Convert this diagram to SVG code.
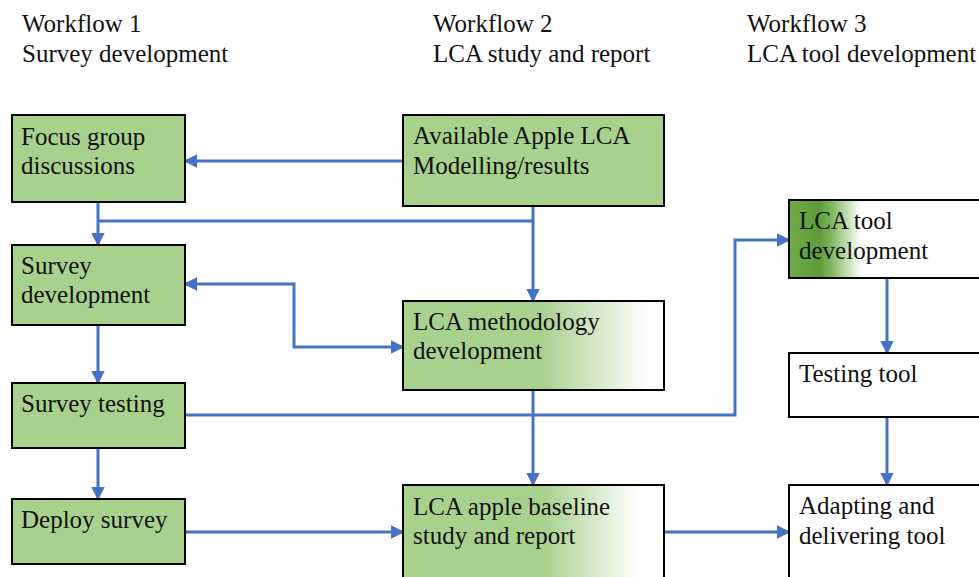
<svg xmlns="http://www.w3.org/2000/svg" width="979" height="577" viewBox="0 0 979 577">
<style>
text{font-family:"Liberation Serif","Times New Roman",serif;font-size:25px;fill:#111}
.box{stroke:#000;stroke-width:2}
.g{fill:#A9D18E}
.w{fill:#fff}
.c{fill:none;stroke:#4472C4;stroke-width:3}
</style>
<defs>
<marker id="ah" viewBox="0 0 10 10" refX="9" refY="5" markerWidth="4.5" markerHeight="4.5" orient="auto-start-reverse" markerUnits="strokeWidth">
<path d="M0,0 L10,5 L0,10 z" fill="#4472C4"/>
</marker>
<linearGradient id="gm" gradientUnits="userSpaceOnUse" x1="403" y1="0" x2="664" y2="0">
<stop offset="0.53" stop-color="#A9D18E"/>
<stop offset="0.94" stop-color="#fff"/>
</linearGradient>
<linearGradient id="gb" gradientUnits="userSpaceOnUse" x1="403" y1="0" x2="664" y2="0">
<stop offset="0.54" stop-color="#A9D18E"/>
<stop offset="0.90" stop-color="#fff"/>
</linearGradient>
<linearGradient id="gt" gradientUnits="userSpaceOnUse" x1="789" y1="0" x2="865" y2="0">
<stop offset="0" stop-color="#70AD47"/>
<stop offset="0.4" stop-color="#5E9C3A"/>
<stop offset="0.55" stop-color="#7DB55A"/>
<stop offset="0.95" stop-color="#fff"/>
</linearGradient>
</defs>
<rect width="979" height="577" fill="#fff"/>
<g id="headers">
<text x="22" y="32">Workflow 1</text>
<text x="22" y="62">Survey development</text>
<text x="433" y="32">Workflow 2</text>
<text x="433" y="62">LCA study and report</text>
<text x="747" y="32">Workflow 3</text>
<text x="747" y="62">LCA tool development</text>
</g>
<g id="connectors">
<path class="c" d="M403,161 H185" marker-end="url(#ah)"/>
<path class="c" d="M98,202 V245" marker-end="url(#ah)"/>
<path class="c" d="M98,221 H533"/>
<path class="c" d="M533,206 V301" marker-end="url(#ah)"/>
<path class="c" d="M185,284 H294 V347 H403" marker-start="url(#ah)" marker-end="url(#ah)"/>
<path class="c" d="M98,325 V383" marker-end="url(#ah)"/>
<path class="c" d="M185,415 H735 V240 H789" marker-end="url(#ah)"/>
<path class="c" d="M533,390 V485" marker-end="url(#ah)"/>
<path class="c" d="M98,448 V499" marker-end="url(#ah)"/>
<path class="c" d="M185,532 H403" marker-end="url(#ah)"/>
<path class="c" d="M664,532 H789" marker-end="url(#ah)"/>
<path class="c" d="M887,278 V353" marker-end="url(#ah)"/>
<path class="c" d="M887,417 V485" marker-end="url(#ah)"/>
</g>
<g id="focus-group">
<rect class="box g" x="12" y="115" width="173" height="87"/>
<text x="21" y="145">Focus group</text>
<text x="21" y="174">discussions</text>
</g>
<g id="survey-development">
<rect class="box g" x="12" y="245" width="173" height="80"/>
<text x="21" y="274">Survey</text>
<text x="21" y="303">development</text>
</g>
<g id="survey-testing">
<rect class="box g" x="12" y="383" width="173" height="65"/>
<text x="21" y="412">Survey testing</text>
</g>
<g id="deploy-survey">
<rect class="box g" x="12" y="499" width="173" height="65"/>
<text x="21" y="528">Deploy survey</text>
</g>
<g id="available-apple-lca">
<rect class="box g" x="403" y="115" width="261" height="91"/>
<text x="413" y="144">Available Apple LCA</text>
<text x="413" y="174">Modelling/results</text>
</g>
<g id="lca-methodology">
<rect class="box" fill="url(#gm)" x="403" y="301" width="261" height="89"/>
<text x="413" y="330">LCA methodology</text>
<text x="413" y="359">development</text>
</g>
<g id="lca-baseline">
<rect class="box" fill="url(#gb)" x="403" y="485" width="261" height="100"/>
<text x="413" y="515">LCA apple baseline</text>
<text x="413" y="544">study and report</text>
</g>
<g id="lca-tool-development">
<rect class="box" fill="url(#gt)" x="789" y="200" width="200" height="78"/>
<text x="799" y="229">LCA tool</text>
<text x="799" y="259">development</text>
</g>
<g id="testing-tool">
<rect class="box w" x="789" y="353" width="200" height="64"/>
<text x="799" y="382">Testing tool</text>
</g>
<g id="adapting-tool">
<rect class="box w" x="789" y="485" width="200" height="100"/>
<text x="799" y="514">Adapting and</text>
<text x="799" y="544">delivering tool</text>
</g>
</svg>
